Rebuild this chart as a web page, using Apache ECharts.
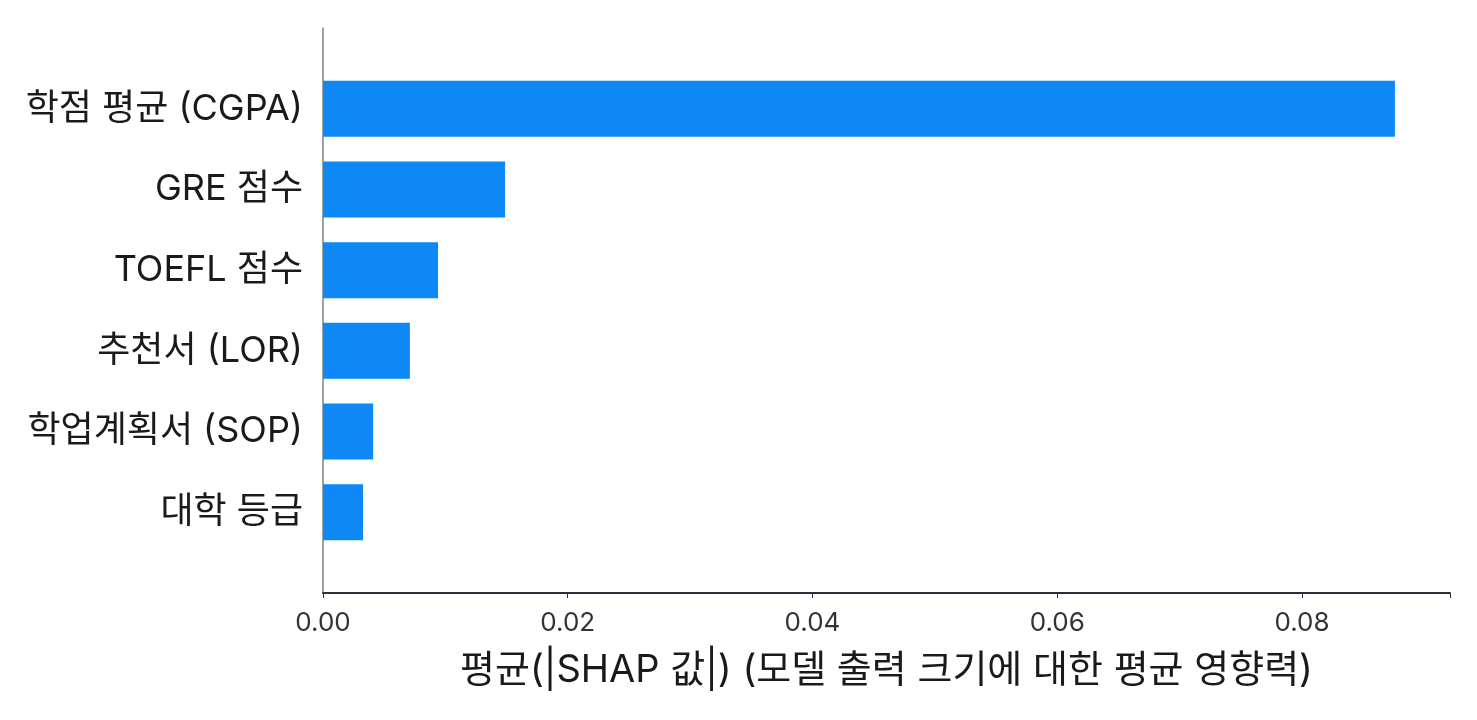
<!DOCTYPE html>
<html>
<head>
<meta charset="utf-8">
<script src="https://cdn.jsdelivr.net/npm/echarts@6/dist/echarts.min.js"></script>
<style>
  html, body { margin: 0; padding: 0; background: #fff; }
  #main { width: 1477px; height: 720px; }
</style>
</head>
<body>
<div id="main"></div>
<script>
// 특징 이름 (아래에서 위로), 앞뒤 빈 칸은 여백용
var features = ['', '대학 등급', '학업계획서 (SOP)', '추천서 (LOR)', 'TOEFL 점수', 'GRE 점수', '학점 평균 (CGPA)', ''];
var shapValues = [null, 0.00327, 0.0041, 0.0071, 0.0094, 0.01488, 0.0876, null];
var xTicks = [0, 0.02, 0.04, 0.06, 0.08];

var myChart = echarts.init(document.getElementById('main'));
var font = 'Inter, "Noto Sans CJK KR", sans-serif';

var option = {
  backgroundColor: '#fff',
  animation: false,
  grid: { left: 323, right: 27, top: 28, bottom: 127 },
  xAxis: {
    type: 'value',
    min: 0,
    max: 0.0921,
    interval: 0.02,
    name: '평균(|SHAP 값|) (모델 출력 크기에 대한 평균 영향력)',
    nameLocation: 'middle',
    nameGap: 59,
    nameTextStyle: { fontSize: 38, color: '#1a1a1a', fontFamily: font },
    axisLine: { show: true, lineStyle: { color: '#2b2f3a', width: 2 } },
    axisTick: { show: true, length: 5, lineStyle: { color: '#2b2f3a' } },
    axisLabel: {
      fontSize: 26, color: '#333', fontFamily: font, margin: 17,
      formatter: function (v) { return xTicks.indexOf(+v.toFixed(2)) >= 0 ? v.toFixed(2) : ''; }
    },
    splitLine: { show: false }
  },
  yAxis: {
    type: 'category',
    data: features,
    boundaryGap: false,
    axisLine: { show: true, onZero: false, lineStyle: { color: '#808080', width: 1.5 } },
    axisTick: { show: false },
    axisLabel: { fontSize: 36, color: '#1a1a1a', fontFamily: font, margin: 20 },
    splitLine: { show: false }
  },
  series: [
    {
      type: 'bar',
      data: shapValues,
      barWidth: 56,
      itemStyle: { color: '#0d88f5' }
    }
  ]
};
myChart.setOption(option);
</script>
</body>
</html>
